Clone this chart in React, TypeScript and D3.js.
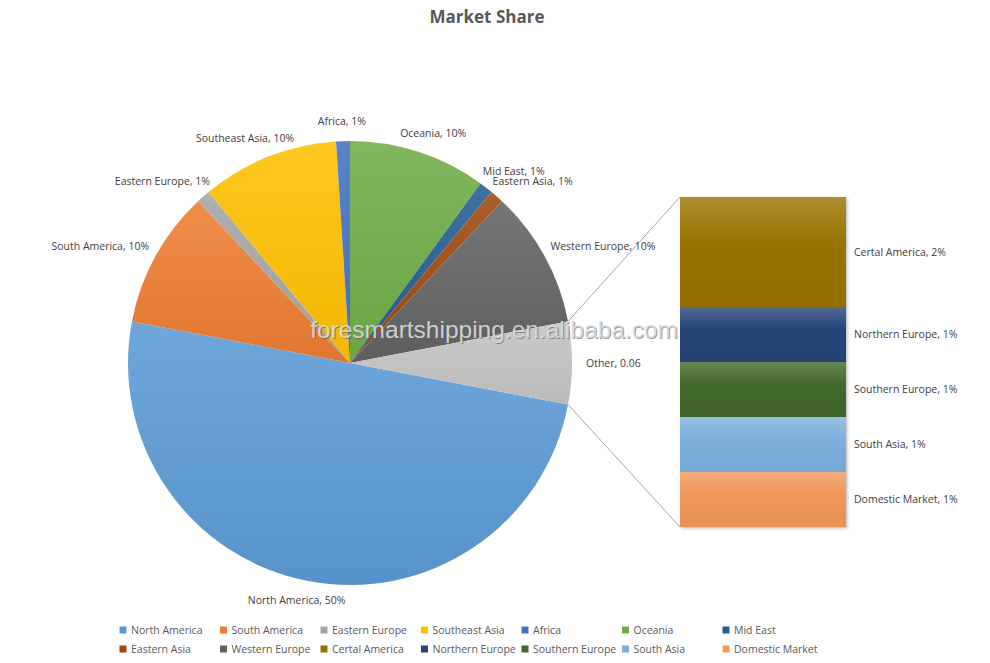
import React, { useEffect, useRef } from "react";
import * as d3 from "d3";

const mainNames = ["North America", "South America", "Eastern Europe", "Southeast Asia", "Africa", "Oceania", "Mid East", "Eastern Asia", "Western Europe"];
const mainValues = [50, 10, 1, 10, 1, 10, 1, 1, 10];
const mainColors = ["#5B9BD5", "#ED7D31", "#A5A5A5", "#FFC000", "#4472C4", "#70AD47", "#255E91", "#9E480E", "#636363"];
const subNames = ["Certal America", "Northern Europe", "Southern Europe", "South Asia", "Domestic Market"];
const subValues = [2, 1, 1, 1, 1];
const subColors = ["#997300", "#264478", "#43682B", "#7CAFDD", "#F1975A"];
const otherLabel = "Other";
const otherColor = "#c4c4c4";
const title = "Market Share";
const watermark = "foresmartshipping.en.alibaba.com";

const W = 990, H = 663;
const LABEL_FONT = "'Open Sans', sans-serif";
const FS = 10.5;

export default function App() {
  const ref = useRef<SVGSVGElement | null>(null);

  useEffect(() => {
    const svg = d3.select(ref.current);
    svg.selectAll("*").remove();
    const defs = svg.append("defs");

    const lighten = (c: string, t: number) => d3.interpolateRgb(c, "#ffffff")(t);
    const darken = (c: string, t: number) => d3.interpolateRgb(c, "#000000")(t);

    const otherValue = d3.sum(subValues);
    const total = d3.sum(mainValues) + otherValue;
    const pieData = mainNames.map((n, i) => ({ name: n, value: mainValues[i], color: mainColors[i], label: `${n}, ${mainValues[i]}%` }));
    pieData.push({ name: otherLabel, value: otherValue, color: otherColor, label: `${otherLabel}, ${(otherValue / total).toFixed(2)}` });

    const cx = 350, cy = 363, r = 222;
    const start = Math.PI / 2 + (otherValue / total) * Math.PI;
    const pie = d3.pie<any>().sort(null).value((d) => d.value).startAngle(start).endAngle(start + 2 * Math.PI);
    const arcs = pie(pieData);
    const arc = d3.arc<any>().innerRadius(0).outerRadius(r);

    // title
    svg.append("text").attr("x", 487).attr("y", 23).attr("text-anchor", "middle")
      .attr("font-family", LABEL_FONT).attr("font-weight", 700).attr("font-size", 17)
      .attr("fill", "#595959").text(title);

    const g = svg.append("g").attr("transform", `translate(${cx},${cy})`);
    arcs.forEach((a, i) => {
      const id = `pg${i}`;
      const lg = defs.append("linearGradient").attr("id", id).attr("x1", 0).attr("y1", 0).attr("x2", 0).attr("y2", 1);
      lg.append("stop").attr("offset", 0).attr("stop-color", lighten(a.data.color, 0.12));
      lg.append("stop").attr("offset", 1).attr("stop-color", darken(a.data.color, 0.05));
      g.append("path").attr("d", arc(a) as string).attr("fill", `url(#${id})`);
    });

    // secondary bar
    const bx = 680, bw = 166, by0 = 197, by1 = 527;
    const y = d3.scaleLinear().domain([0, otherValue]).range([by0, by1]);
    const shadow = defs.append("filter").attr("id", "sh").attr("x", -0.1).attr("y", -0.1).attr("width", 1.3).attr("height", 1.3);
    shadow.append("feDropShadow").attr("dx", 1.5).attr("dy", 1.5).attr("stdDeviation", 1.5).attr("flood-color", "#000").attr("flood-opacity", 0.25);
    const bg = svg.append("g");
    bg.append("rect").attr("x", bx).attr("y", by0).attr("width", bw).attr("height", by1 - by0).attr("fill", "#fff").attr("filter", "url(#sh)");
    let acc = 0;
    subValues.forEach((v, i) => {
      const id = `bg${i}`;
      const lg = defs.append("linearGradient").attr("id", id).attr("x1", 0).attr("y1", 0).attr("x2", 0).attr("y2", 1);
      lg.append("stop").attr("offset", 0).attr("stop-color", lighten(subColors[i], 0.2));
      lg.append("stop").attr("offset", 0.4).attr("stop-color", subColors[i]);
      lg.append("stop").attr("offset", 1).attr("stop-color", darken(subColors[i], 0.04));
      const y0 = y(acc), y1 = y(acc + v);
      bg.append("rect").attr("x", bx).attr("y", y0).attr("width", bw).attr("height", y1 - y0).attr("fill", `url(#${id})`);
      svg.append("text").attr("x", bx + bw + 8).attr("y", (y0 + y1) / 2).attr("dy", "0.35em")
        .attr("font-family", LABEL_FONT).attr("font-size", FS).attr("fill", "#404040")
        .text(`${subNames[i]}, ${v}%`);
      acc += v;
    });

    // connector lines
    const otherArc = arcs[arcs.length - 1];
    const pt = (ang: number) => [cx + r * Math.sin(ang), cy - r * Math.cos(ang)];
    const pTop = pt(otherArc.startAngle), pBot = pt(otherArc.endAngle);
    svg.append("line").attr("x1", pTop[0]).attr("y1", pTop[1]).attr("x2", bx).attr("y2", by0).attr("stroke", "#a6a6a6").attr("stroke-width", 1);
    svg.append("line").attr("x1", pBot[0]).attr("y1", pBot[1]).attr("x2", bx).attr("y2", by1).attr("stroke", "#a6a6a6").attr("stroke-width", 1);

    // pie labels
    arcs.forEach((a) => {
      const m = (a.startAngle + a.endAngle) / 2;
      const s = Math.sin(m), c = Math.cos(m);
      const px = cx + (r + 14) * s, py = cy - (r + 13) * c;
      const t = svg.append("text").attr("font-family", LABEL_FONT).attr("font-size", FS).attr("fill", "#404040")
        .attr("text-anchor", "middle").attr("dy", "0.35em").text(a.data.label);
      const bb = (t.node() as SVGTextElement).getBBox();
      const hw = bb.width / 2, hh = 7;
      t.attr("x", px + s * hw).attr("y", py - c * hh);
    });

    // watermark
    const wx = 494, wy = 338;
    svg.append("text").attr("x", wx + 1).attr("y", wy + 1).attr("text-anchor", "middle")
      .attr("font-family", "'Liberation Sans', Arial, sans-serif").attr("font-size", 24.5)
      .attr("fill", "rgba(90,90,90,0.6)").text(watermark);
    svg.append("text").attr("x", wx).attr("y", wy).attr("text-anchor", "middle")
      .attr("font-family", "'Liberation Sans', Arial, sans-serif").attr("font-size", 24.5)
      .attr("fill", "rgba(222,222,222,0.9)").text(watermark);

    // legend
    const legendNames = [...mainNames, ...subNames];
    const legendColors = [...mainColors, ...subColors];
    const perRow = 7;
    const colX = d3.scaleLinear().domain([0, 1]).range([119.5, 220]);
    legendNames.forEach((n, i) => {
      const col = i % perRow, row = Math.floor(i / perRow);
      const lx = colX(col), ly = 630 + row * 19;
      svg.append("rect").attr("x", lx).attr("y", ly - 3.5).attr("width", 7).attr("height", 7).attr("fill", legendColors[i]);
      svg.append("text").attr("x", lx + 11.5).attr("y", ly).attr("dy", "0.35em")
        .attr("font-family", LABEL_FONT).attr("font-size", FS).attr("fill", "#595959").text(n);
    });
  }, []);

  return (
    <svg ref={ref} width={W} height={H} style={{ position: "absolute", left: 0, top: 0, background: "#fff" }} />
  );
}
